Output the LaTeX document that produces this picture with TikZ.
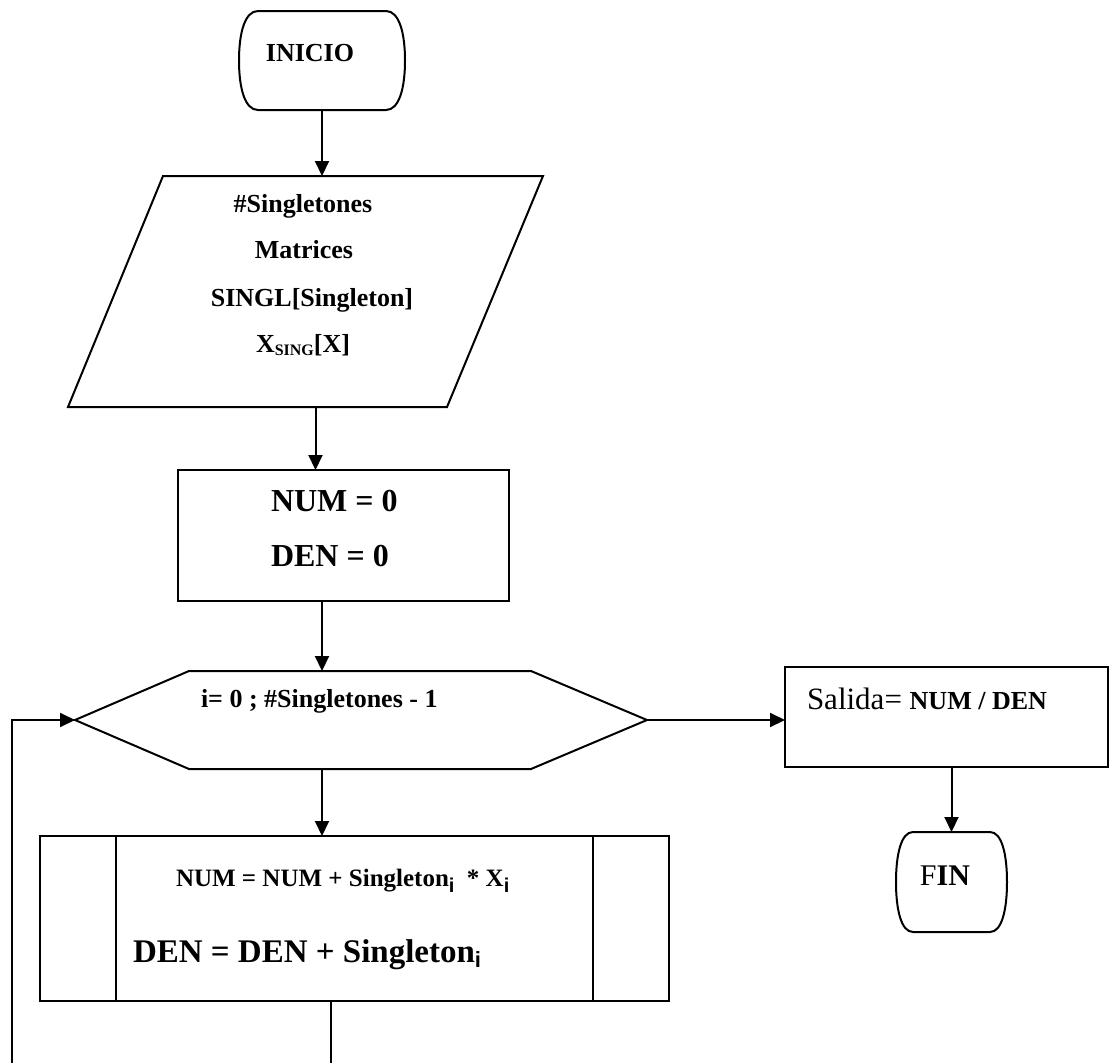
\documentclass[tikz,border=0pt]{standalone}
\usepackage{fontspec}
\setmainfont{Liberation Serif}
\newfontfamily\subsans{Liberation Sans}
\usetikzlibrary{arrows.meta}

% size helper: \fsz{size}
\newcommand\fsz[1]{\fontsize{#1}{#1}\selectfont}
% lowered bold sans index letter
\newcommand\idx[2]{\raisebox{-#2pt}{\subsans\bfseries\fsz{#1}i}}

% outline of a terminal symbol, drawn around (0,0)
% #1 half width, #2 half height, #3 inset of the flat edges
\newcommand\termpath[3]{%
  (-#1+#3,-#2) -- (#1-#3,-#2)
  .. controls (#1-0.3*#3,-#2) and (#1,-0.55*#2) .. (#1,0)
  .. controls (#1,0.55*#2) and (#1-0.3*#3,#2) .. (#1-#3,#2)
  -- (-#1+#3,#2)
  .. controls (-#1+0.3*#3,#2) and (-#1,0.55*#2) .. (-#1,0)
  .. controls (-#1,-0.55*#2) and (-#1+0.3*#3,-#2) .. cycle}

\begin{document}
\begin{tikzpicture}[x=1pt,y=-1pt,
  line width=2pt,
  flow/.style={-{Triangle[length=15pt,width=14pt]}},
  frame/.style={draw, line width=2pt, inner sep=0pt, outer sep=0pt},
  area/.style={inner sep=0pt, outer sep=0pt},
  lbl/.style={inner sep=0pt, outer sep=0pt, anchor=base, font=\bfseries},
  lblw/.style={lbl, anchor=base west},
]
\useasboundingbox (0,0) rectangle (1109,1063);

% ---- shapes -------------------------------------------------------
% start terminal
\node[area, minimum width=166pt, minimum height=99pt] (inicio) at (322,60.5) {};
\draw[shift={(inicio.center)}] \termpath{83}{49.5}{19};

% data input (parallelogram)
\node[area, minimum width=475pt, minimum height=231pt] (entrada) at (305.5,291.5) {};
\draw[shift={(entrada.center)}]
  (-142.5,-115.5) -- (237.5,-115.5) -- (141.5,115.5) -- (-237.5,115.5) -- cycle;

% initialisation
\node[frame, minimum width=331pt, minimum height=131pt] (init) at (343.5,535.5) {};

% loop (hexagon)
\node[area, minimum width=572pt, minimum height=98pt] (loop) at (361,720) {};
\draw[shift={(loop.center)}]
  (-286,0) -- (-172,-49) -- (170,-49) -- (286,0) -- (170,49) -- (-172,49) -- cycle;

% loop body (predefined process)
\node[frame, minimum width=629pt, minimum height=165pt] (body) at (354.5,918.5) {};
\draw ([xshift=76pt]body.north west) -- ([xshift=76pt]body.south west);
\draw ([xshift=-76pt]body.north east) -- ([xshift=-76pt]body.south east);

% output
\node[frame, minimum width=323pt, minimum height=100pt] (salida) at (946.5,717) {};

% end terminal
\node[area, minimum width=111pt, minimum height=100pt] (fin) at (951.5,882) {};
\draw[shift={(fin.center)}] \termpath{55.5}{50}{17};

% ---- texts --------------------------------------------------------
\node[lbl, font=\bfseries\fsz{26}] (tIni) at (310,61) {INICIO};

\node[lbl, font=\bfseries\fsz{26}] (tIn1) at (303,212) {\#Singletones};
\node[lbl, font=\bfseries\fsz{26}] (tIn2) at (304,258) {Matrices};
\node[lbl, font=\bfseries\fsz{26}] (tIn3) at (312,306) {SINGL[Singleton]};
\node[lbl, font=\bfseries\fsz{26}] (tIn4) at (303,352)
  {X\raisebox{-3.5pt}{\fsz{16}SING}[X]};

\node[lblw, font=\bfseries\fsz{32}] (tNum0) at (271,511) {NUM = 0};
\node[lblw, font=\bfseries\fsz{32}] (tDen0) at (271,566) {DEN = 0};

\node[lblw, font=\bfseries\fsz{26}] (tLoop) at (201,707) {i= 0 ; \#Singletones - 1};

\node[lblw, font=\bfseries\fsz{25}] (tNum) at (176,886)
  {NUM = NUM + Singleton\idx{20}{6}\ \ * X\idx{20}{6}};
\node[lblw, font=\bfseries\fsz{33}] (tDen) at (133,962)
  {DEN = DEN + Singleton\idx{22}{5}};

\node[lblw, font=\fsz{31}] (tOut) at (807,709)
  {Salida= {\bfseries\fsz{26}NUM / DEN}};

\node[lbl, font=\fsz{30}] (tFin) at (945,885) {F\textbf{IN}};

% ---- connectors ---------------------------------------------------
\coordinate (bodyOut) at (331,1063);
\coordinate (backIn) at (12,1063);

\draw[flow] (inicio.south) -- (inicio.south |- entrada.north);
\draw[flow] ([xshift=10pt]entrada.south) -- ([xshift=10pt]entrada.south |- init.north);
\draw[flow] ([xshift=-21.5pt]init.south) -- ([xshift=-21.5pt]init.south |- loop.north);
\draw[flow] ([xshift=-39pt]loop.south) -- ([xshift=-39pt]loop.south |- body.north);
\draw ([xshift=-23.5pt]body.south) -- (bodyOut);
\draw[flow] (backIn) |- (loop.west);
\draw[flow] (loop.east) -- (loop.east -| salida.west);
\draw[flow] (salida.south -| fin.north) -- (fin.north);
\end{tikzpicture}
\end{document}
